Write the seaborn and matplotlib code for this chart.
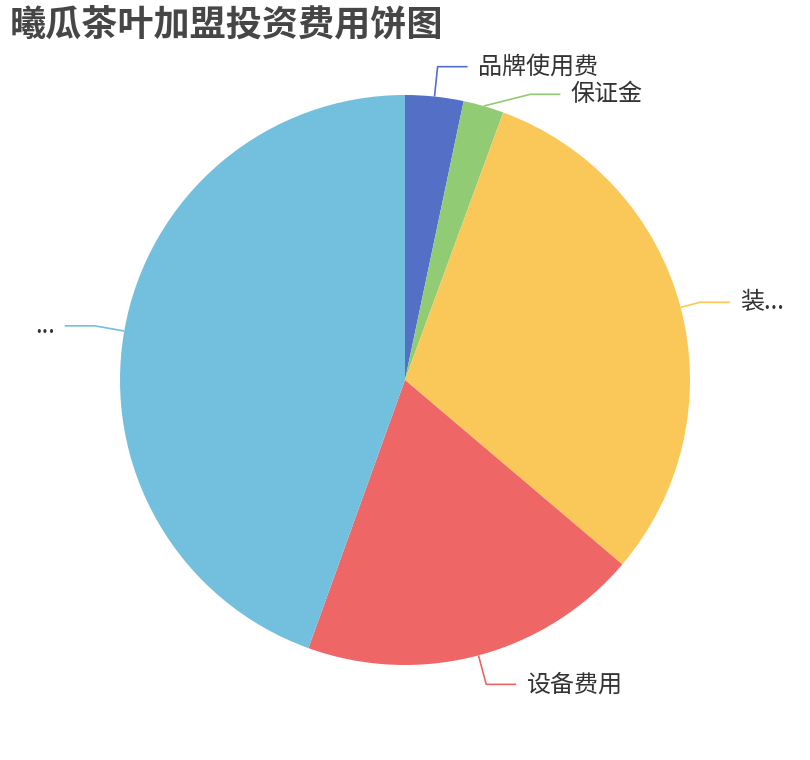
import numpy as np
import matplotlib
matplotlib.use("Agg")
import matplotlib.pyplot as plt
import seaborn as sns

# data (share of the total, clockwise from 12 o'clock)
categories = ['品牌使用费', '保证金', '装...', '设备费用', '...']
values = [3.3, 2.3, 30.6, 19.3, 44.5]
colors = ['#5470c6', '#91cc75', '#fac858', '#ee6666', '#73c0de']
title = '曦瓜茶叶加盟投资费用饼图'

# first leader segment length per label (the truncated one is squeezed near the edge)
line_len1 = [30, 30, 20, 30, 30]

sns.set_theme(style='white')
plt.rcParams['font.family'] = ['Noto Sans CJK SC', 'DejaVu Sans']

W, H = 810, 760
fig = plt.figure(figsize=(W / 100, H / 100), dpi=100)
ax = fig.add_axes([0, 0, 1, 1])

cx, cy, r = 405, 380, 285
wedges, _ = ax.pie(values, colors=colors, startangle=90, counterclock=False,
                   center=(cx, cy), radius=r, frame=True,
                   wedgeprops={'linewidth': 0})
ax.set_xlim(0, W)
ax.set_ylim(0, H)
ax.set_aspect('equal')
ax.axis('off')

len2, gap, lab_h = 30, 10, 27.6

# label anchors: radial elbow, then push apart labels that would overlap
items = []
for w, lab, col, l1 in zip(wedges, categories, colors, line_len1):
    th = np.deg2rad((w.theta1 + w.theta2) / 2)
    ex, ey = cx + r * np.cos(th), cy + r * np.sin(th)
    kx, ky = cx + (r + l1) * np.cos(th), cy + (r + l1) * np.sin(th)
    side = 1 if np.cos(th) >= 0 else -1
    items.append(dict(lab=lab, col=col, ex=ex, ey=ey, kx=kx, ky=ky, side=side, l1=l1))

for side in (1, -1):
    grp = sorted([it for it in items if it['side'] == side], key=lambda d: -d['ky'])
    for prev, cur in zip(grp, grp[1:]):
        if prev['ky'] - cur['ky'] < lab_h:
            cur['ky'] = prev['ky'] - lab_h
            dy = cur['ky'] - cy
            R = r + cur['l1'] - 3
            cur['kx'] = cx + side * np.sqrt(max(R ** 2 - dy ** 2, 0))

for it in items:
    s = it['side']
    hx = it['kx'] + s * len2
    ax.plot([it['ex'], it['kx'], hx], [it['ey'], it['ky'], it['ky']],
            color=it['col'], lw=1.2, solid_capstyle='butt')
    ax.text(hx + s * gap, it['ky'], it['lab'], fontsize=17.3, color='#333333',
            ha='left' if s > 0 else 'right', va='center')

fig.text(10 / W, 1 - 25 / H, title, fontsize=26, fontweight='bold',
         color='#464646', ha='left', va='center')

fig.savefig('out.png', dpi=100, facecolor='white')
